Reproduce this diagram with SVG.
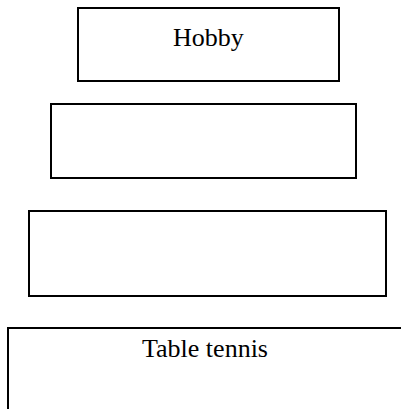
<svg xmlns="http://www.w3.org/2000/svg" width="401" height="409" viewBox="0 0 401 409">
<style>
.box{fill:#fff;stroke:#000;stroke-width:2}
.lbl{font-family:"Liberation Serif","Times New Roman",serif;font-size:26px;fill:#000}
</style>
<rect width="401" height="409" fill="#fff"/>
<g id="hobby">
<rect class="box" x="78" y="8" width="261" height="73"/>
<text class="lbl" x="173" y="46">Hobby</text>
</g>
<g id="level2">
<rect class="box" x="51" y="104" width="305" height="74"/>
</g>
<g id="level3">
<rect class="box" x="29" y="211" width="357" height="85"/>
</g>
<g id="table-tennis">
<path class="box" d="M8,409 V328 H401"/>
<text class="lbl" x="142" y="357">Table tennis</text>
</g>
<g id="connectors"/>
</svg>
